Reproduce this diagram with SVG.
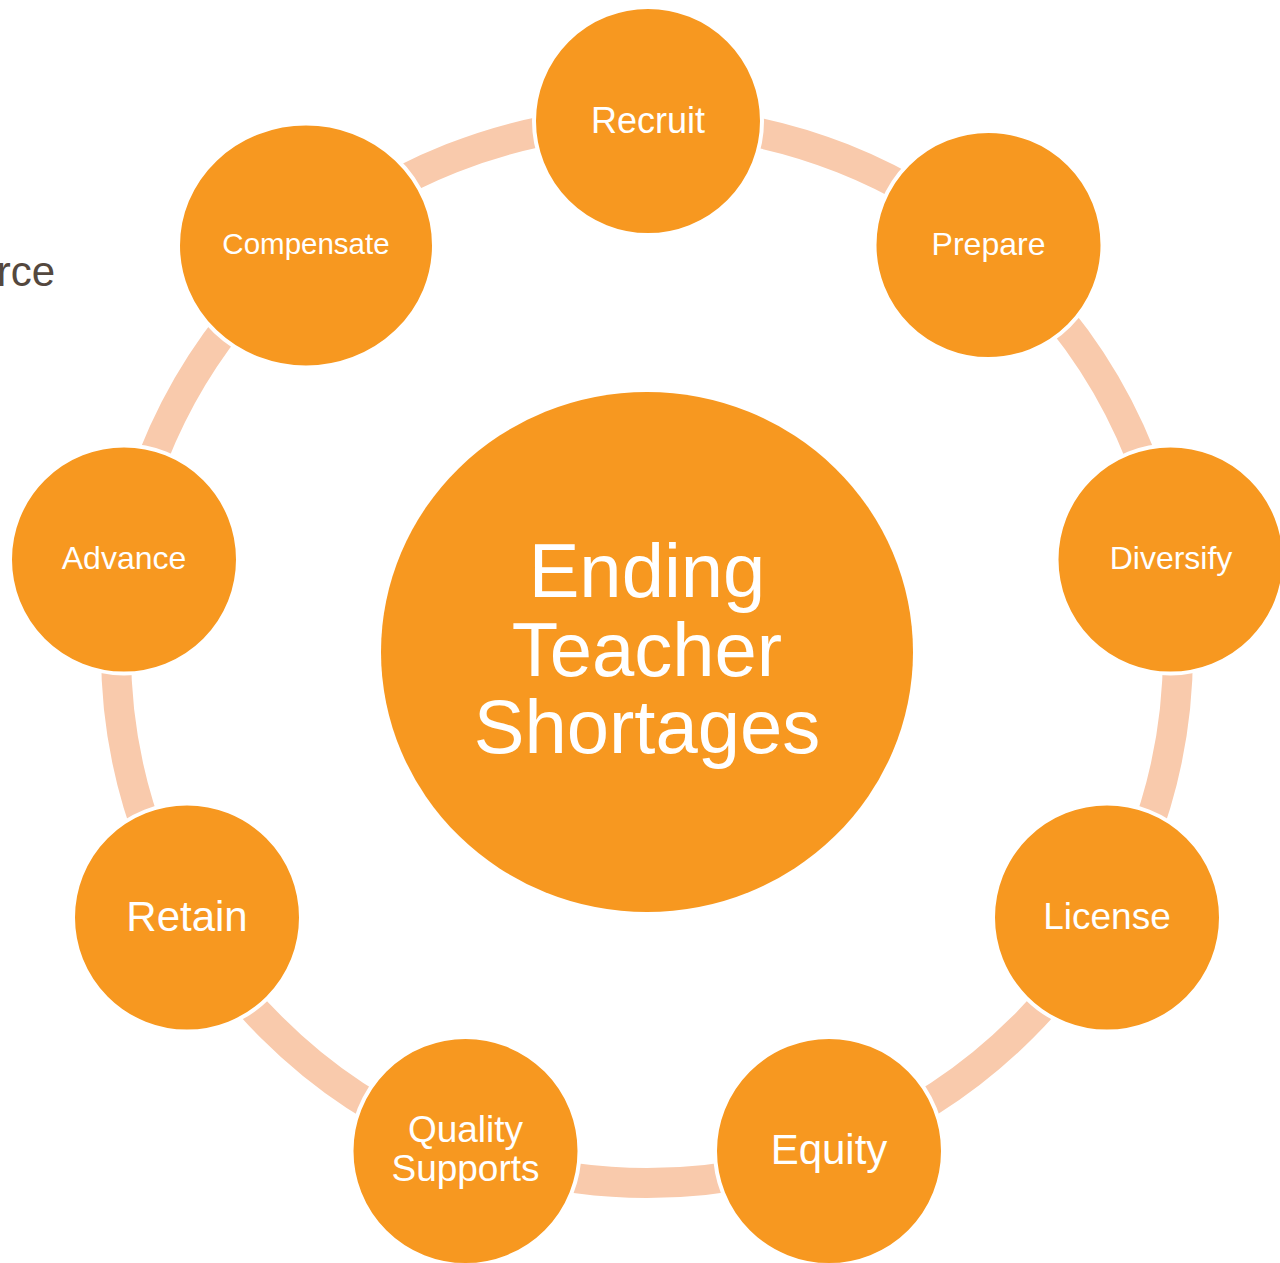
<svg xmlns="http://www.w3.org/2000/svg" width="1280" height="1263" viewBox="0 0 1280 1263">
<style>
.node{fill:#F79820;stroke:#FFFFFF;stroke-width:4}
.center{fill:#F79820}
.lbl{fill:#FFFFFF;font-family:"Liberation Sans",Arial,sans-serif;text-anchor:middle}
.ring{fill:none;stroke:#F9CAAC;stroke-width:30}
</style>
<rect x="0" y="0" width="1280" height="1263" fill="#FFFFFF"/>
<text x="55" y="286" font-family="'Liberation Sans',Arial,sans-serif" font-size="42" fill="#54483E" text-anchor="end">rce</text>
<g id="connectors">
<circle class="ring" cx="647" cy="652" r="531"/>
</g>
<g id="center">
<ellipse class="center" cx="647" cy="652" rx="266" ry="260"/>
<text class="lbl" font-size="76"><tspan x="647" y="597">Ending</tspan><tspan x="647" y="676">Teacher</tspan><tspan x="647" y="753">Shortages</tspan></text>
</g>
<g id="recruit">
<circle class="node" cx="648" cy="121" r="114"/>
<text class="lbl" x="648" y="133" font-size="36">Recruit</text>
</g>
<g id="prepare">
<circle class="node" cx="988.5" cy="245" r="114"/>
<text class="lbl" x="988.5" y="255" font-size="32">Prepare</text>
</g>
<g id="diversify">
<circle class="node" cx="1170.5" cy="559.5" r="114"/>
<text class="lbl" x="1171" y="569" font-size="32">Diversify</text>
</g>
<g id="license">
<circle class="node" cx="1107" cy="917.5" r="114"/>
<text class="lbl" x="1107" y="929" font-size="37">License</text>
</g>
<g id="equity">
<circle class="node" cx="829" cy="1151" r="114"/>
<text class="lbl" x="829" y="1164" font-size="42">Equity</text>
</g>
<g id="quality-supports">
<circle class="node" cx="465.5" cy="1151" r="114"/>
<text class="lbl" font-size="37"><tspan x="465.5" y="1142">Quality</tspan><tspan x="465.5" y="1181">Supports</tspan></text>
</g>
<g id="retain">
<circle class="node" cx="187" cy="917.5" r="114"/>
<text class="lbl" x="187" y="931" font-size="42">Retain</text>
</g>
<g id="advance">
<circle class="node" cx="124" cy="559.5" r="114"/>
<text class="lbl" x="124" y="569" font-size="32">Advance</text>
</g>
<g id="compensate">
<ellipse class="node" cx="306" cy="245.5" rx="128" ry="122"/>
<text class="lbl" x="306" y="254" font-size="29.5">Compensate</text>
</g>
</svg>
